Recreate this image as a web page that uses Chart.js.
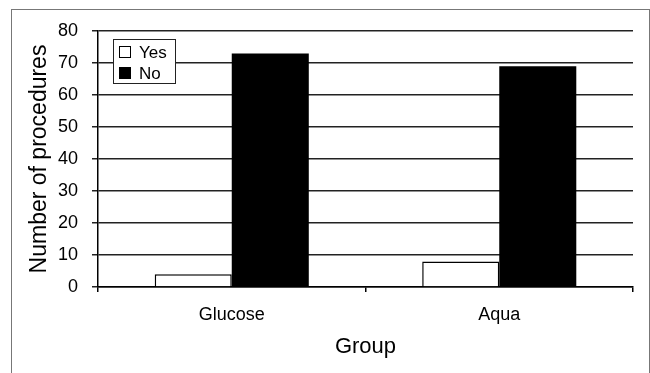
<!DOCTYPE html>
<html>
<head>
<meta charset="utf-8">
<script src="https://cdn.jsdelivr.net/npm/chart.js@4/dist/chart.umd.min.js"></script>
<style>
    body { margin: 0; background: #fff; }
    #wrap { position: relative; width: 650px; height: 373px; overflow: hidden; }
    #frame { position: absolute; left: 11px; top: 9px; width: 637px; height: 400px; border: 1px solid #777; }
    #chart { position: absolute; left: 0; top: 0; }
</style>
</head>
<body>
<div id="wrap">
    <div id="frame"></div>
    <canvas id="chart" width="650" height="373"></canvas>
</div>
<script>
// data
const groups = ['Glucose', 'Aqua'];
const yesCounts = [4, 8];
const noCounts = [73, 69];
const yTicks = [0, 10, 20, 30, 40, 50, 60, 70, 80];

const FONT = "'Liberation Sans', Arial, sans-serif";

// -------------------------------- LEGEND BOX INSIDE PLOT --------------------------------//
// chart.js legend can't sit inside the chart area, so draw it by hand
const insideLegend = {
    id: 'insideLegend',
    afterDatasetsDraw(chart) {
        const ctx = chart.ctx;
        const left = chart.chartArea.left + 15;
        const top = chart.chartArea.top + 8;
        ctx.save();
        ctx.fillStyle = '#fff';
        ctx.fillRect(left, top, 62, 44);
        ctx.strokeStyle = '#222';
        ctx.lineWidth = 1;
        ctx.strokeRect(left + 0.5, top + 0.5, 62, 44);

        ctx.font = '17px ' + FONT;
        ctx.textBaseline = 'middle';
        chart.data.datasets.forEach((ds, i) => {
            const cy = top + 13 + i * 21;
            ctx.fillStyle = ds.backgroundColor;
            ctx.fillRect(left + 6, cy - 6, 12, 12);
            ctx.strokeStyle = '#000';
            ctx.strokeRect(left + 6.5, cy - 5.5, 11, 11);
            ctx.fillStyle = '#000';
            ctx.fillText(ds.label, left + 26, cy + 1);
        });
        ctx.restore();
    }
};

new Chart(document.getElementById('chart'), {
    type: 'bar',
    data: {
        labels: groups,
        datasets: [
            {
                label: 'Yes',
                data: yesCounts,
                backgroundColor: '#fff',
                borderColor: '#000',
                borderWidth: 1.5
            },
            {
                label: 'No',
                data: noCounts,
                backgroundColor: '#000',
                borderColor: '#000',
                borderWidth: 0
            }
        ]
    },
    options: {
        responsive: false,
        animation: false,
        layout: { padding: { top: 31, right: 17, left: 0, bottom: 0 } },
        categoryPercentage: 0.576,
        barPercentage: 1,
        plugins: {
            legend: { display: false },
            tooltip: { enabled: false }
        },
        scales: {
            x: {
                grid: {
                    drawOnChartArea: false,
                    color: '#000',
                    lineWidth: 1.5,
                    tickLength: 5
                },
                border: { color: '#000', width: 1.5 },
                ticks: {
                    color: '#000',
                    font: { family: FONT, size: 18 },
                    padding: 12
                },
                title: {
                    display: true,
                    text: 'Group',
                    color: '#000',
                    font: { family: FONT, size: 22 },
                    padding: { top: 0, bottom: 13 }
                },
                afterFit(scale) { scale.height = 86; }
            },
            y: {
                min: 0,
                max: 80,
                afterBuildTicks(scale) { scale.ticks = yTicks.map(v => ({ value: v })); },
                grid: {
                    color: '#222',
                    lineWidth: 1.5,
                    tickLength: 6
                },
                border: { color: '#000', width: 1.5 },
                ticks: {
                    color: '#000',
                    font: { family: FONT, size: 18 },
                    padding: 14
                },
                title: {
                    display: true,
                    text: 'Number of procedures',
                    color: '#000',
                    font: { family: FONT, size: 23 },
                    padding: { top: 26, bottom: 0 }
                },
                afterFit(scale) { scale.width = 98; }
            }
        }
    },
    plugins: [insideLegend]
});
</script>
</body>
</html>
